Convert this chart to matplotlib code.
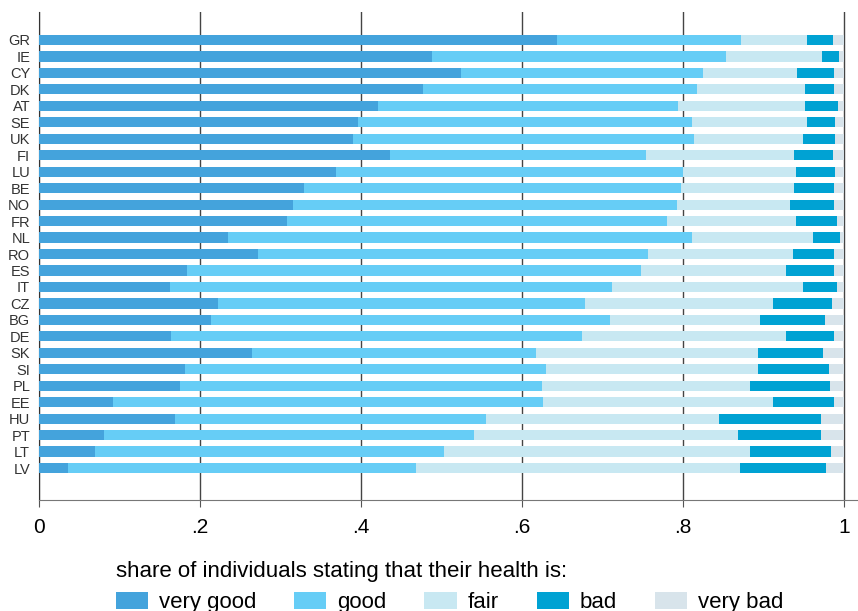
import numpy as np
import matplotlib.pyplot as plt

plt.rcParams['font.family'] = ['Liberation Sans', 'DejaVu Sans']

countries = ['GR', 'IE', 'CY', 'DK', 'AT', 'SE', 'UK', 'FI', 'LU', 'BE', 'NO', 'FR', 'NL', 'RO',
             'ES', 'IT', 'CZ', 'BG', 'DE', 'SK', 'SI', 'PL', 'EE', 'HU', 'PT', 'LT', 'LV']

# cumulative shares (end of each segment)
cum_very_good = [0.643, 0.488, 0.524, 0.477, 0.421, 0.397, 0.391, 0.436, 0.369, 0.330, 0.316, 0.308, 0.235, 0.273,
                 0.184, 0.163, 0.223, 0.214, 0.164, 0.265, 0.182, 0.176, 0.092, 0.169, 0.081, 0.070, 0.036]
cum_good = [0.872, 0.853, 0.825, 0.817, 0.794, 0.811, 0.814, 0.754, 0.800, 0.798, 0.793, 0.780, 0.811, 0.756,
            0.748, 0.712, 0.678, 0.709, 0.675, 0.618, 0.630, 0.625, 0.626, 0.555, 0.541, 0.503, 0.468]
cum_fair = [0.954, 0.973, 0.942, 0.952, 0.952, 0.954, 0.949, 0.938, 0.940, 0.938, 0.933, 0.940, 0.962, 0.937,
            0.928, 0.949, 0.912, 0.895, 0.928, 0.893, 0.893, 0.883, 0.912, 0.845, 0.868, 0.883, 0.871]
cum_bad = [0.986, 0.994, 0.988, 0.987, 0.992, 0.989, 0.989, 0.986, 0.989, 0.987, 0.988, 0.991, 0.995, 0.988,
           0.988, 0.991, 0.985, 0.976, 0.988, 0.974, 0.981, 0.983, 0.988, 0.971, 0.971, 0.984, 0.978]
cum_very_bad = [1.0] * len(countries)

labels = ['very good', 'good', 'fair', 'bad', 'very bad']
colors = ['#44a3dc', '#66cdf6', '#c8e8f2', '#00a2d3', '#d8e4eb']

fig = plt.figure(figsize=(8.58, 6.11), dpi=100)
ax = fig.add_axes([38.5 / 858, 1 - 500 / 611, (857 - 38.5) / 858, 488 / 611])

y = np.arange(len(countries))[::-1]
cums = [cum_very_good, cum_good, cum_fair, cum_bad, cum_very_bad]
left = np.zeros(len(countries))
for cum, lab, col in zip(cums, labels, colors):
    cum = np.array(cum)
    ax.barh(y, cum - left, left=left, height=0.62, color=col, label=lab, zorder=3)
    left = cum

ax.set_xlim(0, 1.016)
ax.set_ylim(-1.94, len(countries) - 1 + 1.7)
ax.set_xticks([0, 0.2, 0.4, 0.6, 0.8, 1])
ax.set_xticklabels(['0', '.2', '.4', '.6', '.8', '1'], fontsize=15)
ax.set_yticks(y)
ax.set_yticklabels(countries, fontsize=10.5, color='#333333')
ax.tick_params(axis='y', length=0, pad=6)
ax.tick_params(axis='x', length=5, width=0.8, color='#555555', pad=8)
ax.xaxis.grid(True, color='#444444', linewidth=1.0, zorder=0)

for s in ['top', 'right']:
    ax.spines[s].set_visible(False)
ax.spines['left'].set_color('#333333')
ax.spines['bottom'].set_color('#777777')

fig.legend(loc='upper left', bbox_to_anchor=(100 / 858, 1 - 545 / 611), ncol=5, frameon=False,
           title='share of individuals stating that their health is:', title_fontsize=16,
           fontsize=16, alignment='left', handlelength=1.45, handleheight=0.8,
           columnspacing=1.7, handletextpad=0.5, borderpad=0.2, labelspacing=0.45)

fig.savefig('out.png', dpi=100)
